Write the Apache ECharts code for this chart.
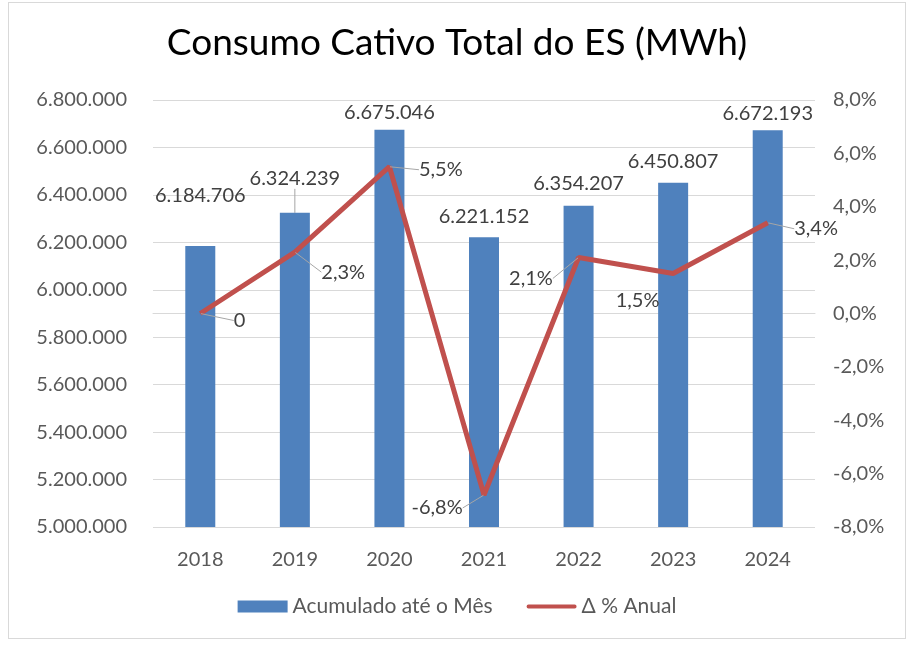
<!DOCTYPE html>
<html>
<head>
<meta charset="utf-8">
<script src="https://cdn.jsdelivr.net/npm/echarts@6/dist/echarts.min.js"></script>
<style>
  html, body { margin: 0; padding: 0; background: #fff; }
  #frame { position: absolute; left: 8px; top: 2px; width: 898px; height: 637px; border: 1px solid #d9d9d9; box-sizing: border-box; }
  #chart { width: 914px; height: 649px; }
</style>
</head>
<body>
<div id="frame"></div>
<div id="chart"></div>
<script>
var years = ['2018', '2019', '2020', '2021', '2022', '2023', '2024'];
var acumulado = [6184706, 6324239, 6675046, 6221152, 6354207, 6450807, 6672193];
var variacao = [0, 2.3, 5.5, -6.8, 2.1, 1.5, 3.4];

// label nudges (px) and leader-line flags, one per year
var barLabelShift = [[0, -35], [0, -19], [0, -2], [0, -6], [0, -7], [0, -6], [0, -2]];
var barLeader = [false, true, false, false, false, false, false];
var lineLabelShift = [[28, 7], [21, 20], [24, 3], [-78, 13], [-75, 21], [-63, 27], [21, 6]];
var lineLeader = [true, true, true, true, true, false, true];

function fmtNum(v) {
  return String(v).replace(/\B(?=(\d{3})+(?!\d))/g, '.');
}
function fmtPct(v) {
  return v.toFixed(1).replace('.', ',') + '%';
}

var font = 'Lato';
var labelColor = '#404040';
var leaderStyle = { color: '#a6a6a6', width: 1 };
var chart = echarts.init(document.getElementById('chart'), null, { renderer: 'canvas' });

var barData = acumulado.map(function (v, i) {
  return { value: v, labelLine: { show: barLeader[i], lineStyle: leaderStyle } };
});
var lineData = variacao.map(function (v, i) {
  return { value: v, labelLine: { show: lineLeader[i], lineStyle: leaderStyle } };
});

var option = {
  animation: false,
  textStyle: { fontFamily: font },
  title: {
    text: 'Consumo Cativo Total do ES (MWh)',
    left: 'center',
    top: 20,
    textStyle: { fontFamily: font, fontSize: 37, fontWeight: 'normal', color: '#000' }
  },
  legend: {
    bottom: 27,
    left: 'center',
    itemWidth: 50,
    itemHeight: 12,
    itemGap: 34,
    textStyle: { fontFamily: font, fontSize: 21, color: '#595959' },
    data: [
      { name: 'Acumulado até o Mês', icon: 'rect' },
      { name: 'Δ % Anual', icon: 'path://M2,0H50A2,2 0 0 1 50,4H2A2,2 0 0 1 2,0Z' }
    ]
  },
  grid: { left: 153, right: 99, top: 100, bottom: 122 },
  xAxis: {
    type: 'category',
    data: years,
    axisLine: { lineStyle: { color: '#d9d9d9' } },
    axisTick: { show: false },
    axisLabel: { color: '#595959', fontSize: 20, margin: 23 }
  },
  yAxis: [
    {
      type: 'value',
      min: 5000000,
      max: 6800000,
      interval: 200000,
      axisLine: { show: false },
      axisTick: { show: false },
      splitLine: { lineStyle: { color: '#d9d9d9', width: 1 } },
      axisLabel: { color: '#595959', fontSize: 20, margin: 26, formatter: fmtNum }
    },
    {
      type: 'value',
      min: -8,
      max: 8,
      interval: 2,
      alignTicks: false,
      axisLine: { show: false },
      axisTick: { show: false },
      splitLine: { show: false },
      axisLabel: { color: '#595959', fontSize: 20, margin: 18, formatter: fmtPct }
    }
  ],
  series: [
    {
      name: 'Acumulado até o Mês',
      type: 'bar',
      data: barData,
      barWidth: 30,
      itemStyle: { color: '#4f81bd' },
      label: {
        show: true,
        position: 'top',
        distance: 5,
        color: labelColor,
        fontSize: 20,
        formatter: function (p) { return fmtNum(p.value); }
      },
      labelLayout: function (p) {
        var s = barLabelShift[p.dataIndex];
        return { dx: s[0], dy: s[1] };
      }
    },
    {
      name: 'Δ % Anual',
      type: 'line',
      yAxisIndex: 1,
      data: lineData,
      symbol: 'circle',
      symbolSize: 1,
      showSymbol: true,
      lineStyle: { color: '#c0504d', width: 5 },
      itemStyle: { color: '#c0504d' },
      label: {
        show: true,
        position: 'right',
        distance: 5,
        color: labelColor,
        fontSize: 20,
        formatter: function (p) { return p.value === 0 ? '0' : fmtPct(p.value); }
      },
      labelLayout: function (p) {
        var s = lineLabelShift[p.dataIndex];
        return { dx: s[0], dy: s[1] };
      }
    }
  ]
};

chart.setOption(option);
</script>
</body>
</html>
